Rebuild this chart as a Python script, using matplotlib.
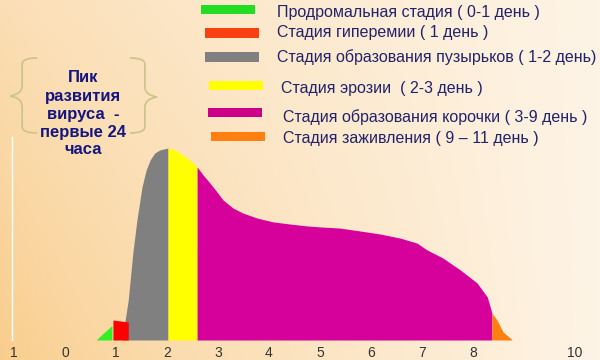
import matplotlib.pyplot as plt
import numpy as np
from matplotlib.patches import Rectangle, PathPatch
from matplotlib.path import Path

plt.rcParams["font.family"] = ["Liberation Sans", "DejaVu Sans"]

# ================================
# %% Data (days, relative intensity, peak = 100)
# ++++++++++++++++++++++++++++++++

prodromal_days = [0.61, 0.75, 0.92]
prodromal_vals = [0, 3.5, 7.5]

hyperemia_days = [0.94, 1.24]
hyperemia_vals = [10.4, 9.4]

vesicle_days = [1.12, 1.24, 1.33, 1.41, 1.51, 1.59, 1.67, 1.76, 1.86, 2.02]
vesicle_vals = [0, 20.8, 45.3, 62.5, 79.7, 88.5, 93.8, 97.4, 99.0, 100]

erosion_days = [2.02, 2.16, 2.25, 2.39, 2.49, 2.59]
erosion_vals = [100, 99.0, 97.4, 94.8, 92.7, 90.1]

crust_days = [2.59, 2.71, 2.84, 2.98, 3.10, 3.29, 3.49, 3.77, 4.08, 4.41,
              4.75, 5.00, 5.39, 5.78, 6.18, 6.57, 6.90, 7.10, 7.41, 7.75,
              8.08, 8.28, 8.37]
crust_vals = [90.1, 85.9, 81.8, 77.1, 72.9, 68.8, 66.1, 63.5, 61.5, 60.4,
              59.4, 58.9, 58.3, 56.8, 55.2, 53.1, 50.5, 46.9, 42.7, 36.5,
              29.7, 22.4, 14.1]

healing_days = [8.37, 8.47, 8.59, 8.73, 8.77]
healing_vals = [14.1, 10.4, 4.2, 1.0, 0]

tick_pos = [-1, 0, 1, 2, 3, 4, 5, 6, 7, 8, 10]
tick_labels = ["1", "0", "1", "2", "3", "4", "5", "6", "7", "8", "10"]

stage_names = [
    "Продромальная стадия ( 0-1 день )",
    "Стадия гиперемии ( 1 день )",
    "Стадия образования пузырьков ( 1-2 день)",
    "Стадия эрозии  ( 2-3 день )",
    "Стадия образования корочки ( 3-9 день )",
    "Стадия заживления ( 9 – 11 день )",
]
legend_colors = ["#22dd22", "#f84010", "#808080", "#ffff00", "#cc0088", "#ff8010"]

peak_text = "Пик\nразвития\nвируса  -\nпервые 24\nчаса"

# ================================
# %% Figure + background
# ++++++++++++++++++++++++++++++++

W, H = 600, 360
fig = plt.figure(figsize=(W / 100, H / 100), dpi=100)

bg = fig.add_axes([0, 0, 1, 1])
gx = np.linspace(0, 1, 300)[np.newaxis, :]
gy = np.linspace(0, 1, 200)[:, np.newaxis]
left_top = np.array([251, 222, 180]) / 255
left_bot = np.array([249, 205, 140]) / 255
right_col = np.array([254, 244, 230]) / 255
left_col = left_top * (1 - gy[..., np.newaxis]) + left_bot * gy[..., np.newaxis]
t = (gx ** 0.8)[..., np.newaxis]
img = left_col * (1 - t) + right_col * t
bg.imshow(img, extent=[0, 1, 0, 1], aspect="auto", origin="upper")
bg.set_axis_off()

# ================================
# %% Main chart
# ++++++++++++++++++++++++++++++++

px_per_day = 51
x0_px = 65
base_px = 340
px_per_unit = 1.92

ax = fig.add_axes([0, (H - base_px) / H, 1, base_px / H])
ax.set_facecolor("none")
ax.set_xlim(-x0_px / px_per_day, (W - x0_px) / px_per_day)
ax.set_ylim(0, base_px / px_per_unit)

ax.fill_between(vesicle_days, vesicle_vals, 0, color="#808080", lw=0, zorder=2)
ax.fill_between(erosion_days, erosion_vals, 0, color="#ffff00", lw=0, zorder=2)
ax.fill_between(crust_days, crust_vals, 0, color="#d6009a", lw=0, zorder=2)
ax.fill_between(healing_days, healing_vals, 0, color="#ff8010", lw=0, zorder=2)
ax.fill_between(prodromal_days, prodromal_vals, 0, color="#33ee22", lw=0, zorder=3)
ax.fill_between(hyperemia_days, hyperemia_vals, 0, color="#ff0000", lw=0, zorder=3)

for s in ["top", "right", "bottom"]:
    ax.spines[s].set_visible(False)
ax.spines["left"].set_position(("data", -1.04))
ax.spines["left"].set_color("white")
ax.spines["left"].set_linewidth(1)
ax.spines["left"].set_bounds(0, 105.7)
ax.set_yticks([])
ax.set_xticks(tick_pos)
ax.set_xticklabels(tick_labels)
ax.tick_params(axis="x", length=0, pad=4, labelsize=10, labelcolor="#333333")

# ================================
# %% Legend
# ++++++++++++++++++++++++++++++++

bar_x = [201, 205, 205, 209, 208, 211]
bar_y = [9.5, 33, 57, 85.5, 113, 137]
text_x = [277, 277, 277, 281, 283, 283]
text_y = [13, 32, 57, 89, 117, 138]

for name, c, bx, by, tx, ty in zip(stage_names, legend_colors, bar_x, bar_y, text_x, text_y):
    fig.patches.append(Rectangle(
        (bx / W, 1 - (by + 4.5) / H), 54 / W, 9 / H,
        transform=fig.transFigure, color=c, lw=0,
    ))
    fig.text(tx / W, 1 - ty / H, name, fontsize=11.5, color="#22226a",
             ha="left", va="center")

# ================================
# %% Peak note with braces
# ++++++++++++++++++++++++++++++++

fig.text(83 / W, 1 - 114 / H, peak_text, fontsize=12, fontweight="bold",
         color="#151580", ha="center", va="center", linespacing=1.25)


def brace(x_out, x_tip, y_top, y_mid, y_bot):
    # x_out: ends of the brace, x_tip: pointy middle
    xm = x_out + (x_tip - x_out) * 0.55
    verts = [
        (x_out, y_top), (xm, y_top), (xm, y_top + 6), (xm, y_top + 12),
        (xm, y_mid - 10), (xm, y_mid - 2), (x_tip, y_mid),
        (xm, y_mid + 2), (xm, y_mid + 10),
        (xm, y_bot - 12), (xm, y_bot - 6), (xm, y_bot), (x_out, y_bot),
    ]
    codes = [Path.MOVETO, Path.CURVE3, Path.CURVE3, Path.LINETO,
             Path.LINETO, Path.CURVE3, Path.CURVE3,
             Path.CURVE3, Path.CURVE3,
             Path.LINETO, Path.LINETO, Path.CURVE3, Path.CURVE3]
    verts = [(x / W, 1 - y / H) for x, y in verts]
    return PathPatch(Path(verts, codes), transform=fig.transFigure,
                     fill=False, ec="#c9c488", lw=1.2)


fig.patches.append(brace(37, 10, 58, 96, 133))
fig.patches.append(brace(130, 157, 58, 97, 133))

fig.savefig("out.png", dpi=100)
